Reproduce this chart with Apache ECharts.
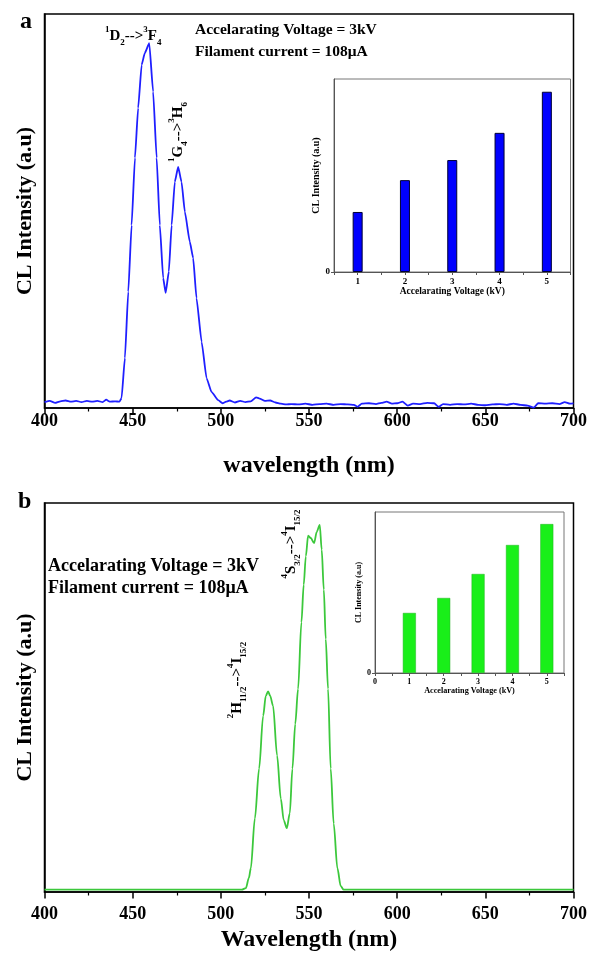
<!DOCTYPE html>
<html>
<head>
<meta charset="UTF-8">
<title>CL spectra</title>
<script src="https://cdn.jsdelivr.net/npm/echarts@6/dist/echarts.min.js"></script>
<style>
  html, body { margin: 0; padding: 0; background: #fff; }
  #chart { width: 590px; height: 953px; }
</style>
</head>
<body>
<div id="chart"></div>
<script>
// panel a : blue spectrum
var wlA = [400, 403, 406, 409, 412, 415, 418, 421, 424, 427,
  430, 433, 435, 437, 440, 442.5, 443.7, 445.6, 447.5, 449.4,
  451.3, 453.1, 455.1, 456.9, 459.4, 461.6, 463.6, 465.4, 467.3, 468.7,
  470.5, 472.1, 473.9, 475.8, 477.7, 479.6, 482.4, 484.3, 486.2, 489.1,
  491.9, 494.7, 498.5, 501, 503, 505, 508, 511, 514, 517,
  520, 522, 525, 528, 531, 534, 537, 540, 544, 548,
  552, 556, 560, 564, 568, 572, 575.5, 577.5, 580, 584,
  588, 591, 594, 597, 600, 603, 606, 609, 613, 617,
  621, 623.5, 626, 630, 634, 638, 642, 646, 650, 654,
  658, 662, 666, 670, 674, 677.5, 680, 684, 688, 692,
  695, 698, 700];
var intA = [1.5, 1.8, 1.3, 1.7, 1.9, 1.6, 1.8, 1.5, 1.8, 1.6,
  1.8, 1.5, 2.1, 1.6, 1.7, 1.6, 2.5, 12.7, 29.5, 46.4,
  63.5, 76.1, 87.1, 90.1, 92.6, 80.3, 63.5, 46.4, 33.0, 29.2,
  34.6, 46.4, 57.4, 61.2, 57.4, 49.8, 42.2, 38.1, 27.9, 16.8,
  7.6, 4.1, 2.0, 1.2, 1.6, 1.9, 1.4, 1.8, 1.5, 1.7,
  2.7, 2.4, 1.8, 1.9, 1.4, 1.1, 0.9, 1.0, 0.9, 1.1,
  0.8, 1.0, 1.1, 0.8, 1.0, 0.9, 0.8, 0.3, 1.1, 1.2,
  1.0, 1.3, 1.6, 1.1, 1.2, 1.6, 0.6, 1.1, 1.0, 1.3,
  1.2, 0.3, 1.0, 0.8, 1.0, 0.9, 1.1, 0.8, 0.7, 0.9,
  1.0, 0.8, 1.1, 0.8, 0.6, 0.1, 1.2, 1.1, 1.2, 1.0,
  1.5, 1.1, 1.2];

// panel b : green spectrum
var wlB = [400, 430, 460, 490, 505, 511.9, 514.2, 515.9, 517.0, 519.3,
  521.7, 524.0, 525.5, 526.8, 528.0, 529.6, 531.9, 534.0, 535.7, 537.4,
  539.1, 540.6, 542.2, 543.8, 545.7, 547.0, 548.2, 549.5, 551.0, 552.9,
  554.4, 556.1, 557.2, 558.4, 559.5, 560.8, 562.3, 564.0, 566.1, 568.0,
  569.7, 580, 620, 660, 700];
var intB = [0.6, 0.6, 0.6, 0.6, 0.6, 0.6, 1.0, 3.6, 6.1, 18.9,
  31.7, 45.3, 50.4, 51.6, 50.4, 47.9, 35.1, 24.0, 18.4, 16.4,
  20.2, 31.7, 43.2, 52.2, 69.3, 79.0, 86.3, 91.6, 91.0, 89.7,
  92.6, 94.4, 88.0, 77.7, 65.0, 52.2, 31.7, 17.6, 6.1, 1.5,
  0.6, 0.6, 0.6, 0.6, 0.6];

// insets : intensity vs accelerating voltage
var voltA = [1, 2, 3, 4, 5];
var barA = [31.1, 47.6, 58.0, 72.1, 93.4];
var voltB = [1, 2, 3, 4, 5];
var barB = [37.3, 46.6, 61.5, 79.5, 92.5];

var FONT = 'Liberation Serif';

function zip(xs, ys) {
  return xs.map(function (x, i) { return [x, ys[i]]; });
}

var richLbl = {
  n: { fontSize: 15, fontFamily: FONT, fontWeight: 'bold', fill: '#000', lineHeight: 22 },
  sp: { fontSize: 9, fontFamily: FONT, fontWeight: 'bold', fill: '#000', verticalAlign: 'top', lineHeight: 10 },
  sb: { fontSize: 9, fontFamily: FONT, fontWeight: 'bold', fill: '#000', verticalAlign: 'bottom', lineHeight: 10 }
};

function peakText(x, y, txt, rot) {
  return {
    type: 'text', x: x, y: y, rotation: rot ? Math.PI / 2 : 0,
    style: {
      text: txt, rich: richLbl, fill: '#000',
      font: 'bold 15px "' + FONT + '"',
      align: rot ? 'center' : 'left', verticalAlign: 'middle'
    }
  };
}

function plainText(x, y, txt, size) {
  return {
    type: 'text', x: x, y: y,
    style: {
      text: txt, fill: '#000', font: 'bold ' + size + 'px "' + FONT + '"',
      align: 'left', verticalAlign: 'middle'
    }
  };
}

function mainX(grid, name, labelMargin, nameGap) {
  return {
    type: 'value', gridIndex: grid, min: 400, max: 700, interval: 50,
    axisLine: { lineStyle: { color: '#000', width: 1.5 } },
    axisTick: { length: 6.5, lineStyle: { color: '#000', width: 1.5 } },
    minorTick: { show: true, splitNumber: 2, length: 3.5, lineStyle: { color: '#000', width: 1.2 } },
    splitLine: { show: false },
    axisLabel: { color: '#000', fontFamily: FONT, fontWeight: 'bold', fontSize: 18, margin: labelMargin },
    name: name, nameLocation: 'middle', nameGap: nameGap,
    nameTextStyle: { color: '#000', fontFamily: FONT, fontWeight: 'bold', fontSize: 24 }
  };
}

function mainY(grid) {
  return {
    type: 'value', gridIndex: grid, min: 0, max: 100,
    axisLine: { show: true, lineStyle: { color: '#000', width: 1.5 } },
    axisTick: { show: false }, axisLabel: { show: false }, splitLine: { show: false },
    name: 'CL Intensity (a.u)', nameLocation: 'middle', nameGap: 8,
    nameTextStyle: { color: '#000', fontFamily: FONT, fontWeight: 'bold', fontSize: 22 }
  };
}

function insetX(grid, min, fs, nameFs, nameGap) {
  return {
    type: 'value', gridIndex: grid, min: min, max: 5.5, interval: 0.5,
    axisLine: { lineStyle: { color: '#555', width: 1 } },
    axisTick: { length: 3, lineStyle: { color: '#555' } },
    splitLine: { show: false },
    axisLabel: {
      color: '#000', fontFamily: FONT, fontWeight: 'bold', fontSize: fs, margin: 5,
      formatter: function (v) { return Number.isInteger(v) ? String(v) : ''; }
    },
    name: 'Accelarating Voltage (kV)', nameLocation: 'middle', nameGap: nameGap,
    nameTextStyle: { color: '#000', fontFamily: FONT, fontWeight: 'bold', fontSize: nameFs }
  };
}

function insetY(grid, fs, nameFs, nameGap) {
  return {
    type: 'value', gridIndex: grid, min: 0, max: 100,
    axisLine: { show: true, lineStyle: { color: '#555', width: 1 } },
    axisTick: { show: true, length: 3, customValues: [0], lineStyle: { color: '#555' } },
    axisLabel: { color: '#000', fontFamily: FONT, fontWeight: 'bold', fontSize: fs, margin: 4, customValues: [0] },
    splitLine: { show: false },
    name: 'CL Intensity (a.u)', nameLocation: 'middle', nameGap: nameGap,
    nameTextStyle: { color: '#000', fontFamily: FONT, fontWeight: 'bold', fontSize: nameFs }
  };
}

var chart = echarts.init(document.getElementById('chart'));
chart.setOption({
  animation: false,
  backgroundColor: '#fff',
  grid: [
    { left: 44.5, top: 14, right: 16, height: 394, show: true, borderColor: '#000', borderWidth: 1.5 },
    { left: 334, top: 79, right: 19.5, height: 193, show: true, borderColor: '#777', borderWidth: 1 },
    { left: 44.5, top: 503, right: 16, height: 392, show: true, borderColor: '#000', borderWidth: 1.5 },
    { left: 375, top: 512, right: 26, height: 161, show: true, borderColor: '#777', borderWidth: 1 }
  ],
  xAxis: [
    mainX(0, 'wavelength (nm)', 4, 46),
    insetX(1, 0.5, 9, 9.5, 11),
    mainX(2, 'Wavelength (nm)', 13, 36),
    insetX(3, 0, 8, 8.2, 12)
  ],
  yAxis: [
    mainY(0),
    insetY(1, 9, 10, 5),
    mainY(2),
    insetY(3, 8, 8, 4)
  ],
  series: [
    {
      type: 'line', xAxisIndex: 0, yAxisIndex: 0, data: zip(wlA, intA),
      showSymbol: false, symbol: 'none', smooth: 0.15, smoothMonotone: 'x',
      lineStyle: { color: '#1f1fff', width: 1.8 }
    },
    {
      type: 'bar', xAxisIndex: 1, yAxisIndex: 1, data: zip(voltA, barA), barWidth: 10,
      itemStyle: { color: '#0000ff', borderColor: '#000033', borderWidth: 1 }
    },
    {
      type: 'line', xAxisIndex: 2, yAxisIndex: 2, data: zip(wlB, intB),
      showSymbol: false, symbol: 'none', smooth: 0.3, smoothMonotone: 'x',
      lineStyle: { color: '#3cc83c', width: 1.8 }
    },
    {
      type: 'bar', xAxisIndex: 3, yAxisIndex: 3, data: zip(voltB, barB), barWidth: 13,
      itemStyle: { color: '#19ef19', borderColor: '#22b022', borderWidth: 0.5 }
    }
  ],
  graphic: [
    plainText(20, 22, 'a', 24),
    plainText(18, 502, 'b', 24),
    plainText(195, 30, 'Accelarating Voltage = 3kV', 15.5),
    plainText(195, 52, 'Filament current = 108\u03bcA', 15.5),
    plainText(48, 566, 'Accelarating Voltage = 3kV', 18),
    plainText(48, 588, 'Filament current = 108\u03bcA', 18),
    peakText(105, 36, '{sp|1}{n|D}{sb|2}{n|-->}{sp|3}{n|F}{sb|4}', false),
    peakText(178, 132, '{sp|1}{n|G}{sb|4}{n|-->}{sp|3}{n|H}{sb|6}', true),
    peakText(237, 680, '{sp|2}{n|H}{sb|11/2}{n|-->}{sp|4}{n|I}{sb|15/2}', true),
    peakText(291, 544, '{sp|4}{n|S}{sb|3/2}{n|-->}{sp|4}{n|I}{sb|15/2}', true)
  ]
});
</script>
</body>
</html>
